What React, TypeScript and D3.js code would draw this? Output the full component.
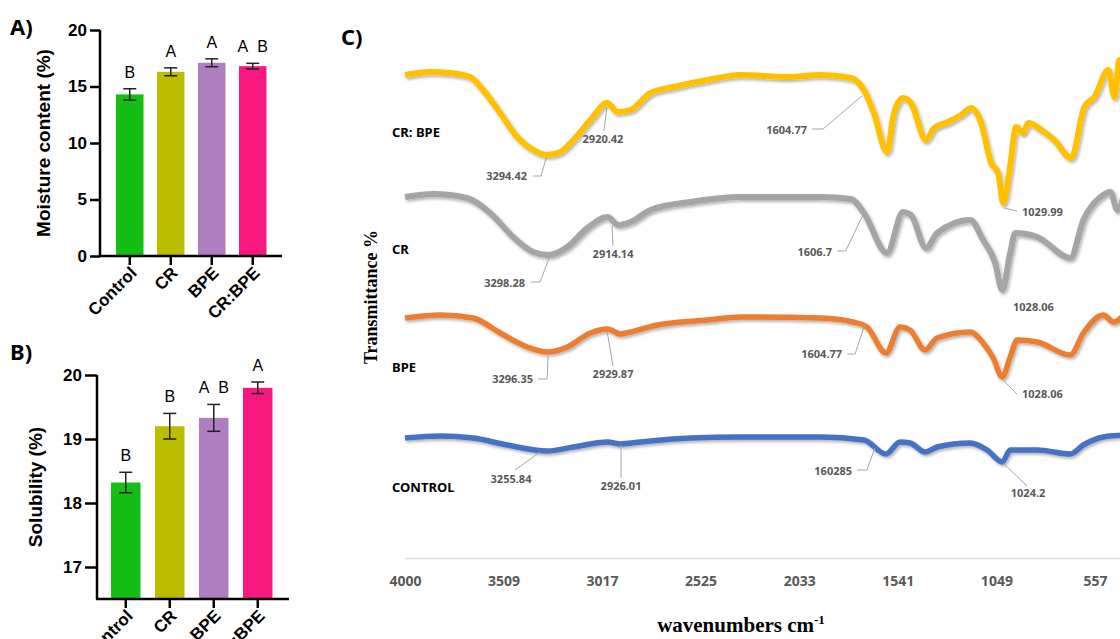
import { useRef, useEffect } from "react";
import * as d3 from "d3";

// ---- Panel A / B data ----
const categories = ["Control", "CR", "BPE", "CR:BPE"];
const moistureMeans = [14.3, 16.3, 17.1, 16.8];
const moistureErrors = [0.5, 0.35, 0.35, 0.25];
const moistureLetters = ["B", "A", "A", "A B"];
const moistureTicks = [0, 5, 10, 15, 20];

const solubilityMeans = [18.32, 19.2, 19.33, 19.8];
const solubilityErrors = [0.16, 0.2, 0.21, 0.09];
const solubilityLetters = ["B", "B", "A B", "A"];
const solubilityTicks = [17, 18, 19, 20];

const barColors = ["#14BE14", "#BDBD00", "#AE7EC0", "#F7197F"];

// ---- Panel C data (wavenumber, transmittance with offset) ----
const wavenumberTicks = [4000, 3509, 3017, 2525, 2033, 1541, 1049, 557];
const spectrumNames = ["CR: BPE", "CR", "BPE", "CONTROL"];

const crBpeSpectrum: [number, number][] = [
  [4000, 97], [3875, 97.6], [3775, 97.4], [3675, 96.6], [3610, 94], [3525, 89.4],
  [3440, 84.6], [3360, 82], [3290, 81], [3225, 81.6], [3160, 84], [3075, 88],
  [2990, 91.4], [2940, 89.6], [2875, 90], [2775, 93.4], [2660, 94.6], [2490, 96],
  [2325, 97], [2090, 96.6], [1925, 97], [1775, 96.4], [1710, 94], [1660, 89.4],
  [1595, 81.6], [1560, 89.4], [1515, 92.4], [1475, 91.4], [1400, 84], [1360, 86.4],
  [1290, 87.6], [1225, 89], [1175, 90.4], [1125, 87.4], [1075, 79.4], [1040, 77.4],
  [1015, 71.4], [985, 77.4], [950, 86.6], [915, 85.4], [890, 87.4], [825, 86],
  [760, 84], [675, 80.4], [610, 90.6], [560, 92.6], [490, 98], [460, 92.6],
  [435, 100], [400, 99],
];
const crSpectrum: [number, number][] = [
  [4000, 72.6], [3860, 73.2], [3690, 72.4], [3575, 69.4], [3460, 64.6], [3360, 61.6],
  [3285, 61], [3190, 62.6], [3090, 66.4], [2990, 68.6], [2935, 67], [2875, 67.6],
  [2775, 70], [2575, 71.6], [2325, 72.6], [1925, 72.6], [1775, 72.2], [1710, 69.4],
  [1595, 61.4], [1515, 69.6], [1475, 69], [1400, 62.4], [1345, 65.4], [1180, 68],
  [1115, 64], [1055, 59.4], [1020, 54], [980, 61.4], [955, 65.4], [845, 64.6],
  [680, 60.4], [615, 68], [530, 72.6], [480, 73.6], [445, 70], [400, 75.4],
];
const bpeSpectrum: [number, number][] = [
  [4000, 48.4], [3825, 49], [3660, 48.4], [3525, 45.4], [3390, 42.6], [3290, 41.6],
  [3190, 42.6], [3075, 45.4], [2990, 46.2], [2925, 45.2], [2875, 45.6], [2740, 47],
  [2490, 48], [2325, 48.6], [1925, 48.4], [1765, 47.6], [1695, 46.6], [1600, 41.4],
  [1530, 46.6], [1480, 46], [1405, 42], [1345, 44.4], [1180, 45.6], [1115, 43.4],
  [1065, 40.4], [1020, 36.6], [980, 40.6], [945, 44], [845, 43.6], [680, 41],
  [615, 45.4], [515, 49], [465, 47.6], [400, 49.6],
];
const controlSpectrum: [number, number][] = [
  [4000, 24.4], [3825, 24.8], [3660, 24.4], [3490, 23], [3290, 21.8], [3160, 22.6],
  [2990, 23.6], [2925, 23.2], [2825, 23.6], [2575, 24.4], [2325, 24.6], [1925, 24.6],
  [1710, 24], [1600, 21.2], [1530, 23.6], [1480, 23.4], [1405, 21.6], [1345, 22.6],
  [1180, 23.4], [1095, 22], [1020, 19.6], [980, 22], [845, 22], [680, 21.2],
  [615, 23], [515, 24.6], [400, 25],
];
const spectra = [crBpeSpectrum, crSpectrum, bpeSpectrum, controlSpectrum];
const spectrumColors = ["#FFC000", "#A5A5A5", "#ED7D31", "#4472C4"];
const spectrumWidths = [6, 6, 5.5, 5.5];
// where the sample name sits (transmittance units)
const spectrumLabelValues = [85.6, 62.2, 38.6, 14.6];

// peak callouts: text, label point, anchor, leader points (all in data space)
type Callout = { text: string; at: [number, number]; anchor: string; leader: [number, number][] };
const callouts: Callout[] = [
  { text: "3294.42", at: [3391, 76.8], anchor: "end", leader: [[3361, 76.8], [3321, 76.8], [3296, 80.4]] },
  { text: "2920.42", at: [3012, 84.2], anchor: "middle", leader: [[3007, 85.8], [2992, 90.6]] },
  { text: "1604.77", at: [1994, 86], anchor: "end", leader: [[1969, 86.2], [1914, 86.2], [1720, 92.8]] },
  { text: "1029.99", at: [921, 69.6], anchor: "start", leader: [[946, 69.8], [1011, 70.4]] },
  { text: "3298.28", at: [3401, 55.4], anchor: "end", leader: [[3371, 55.6], [3326, 55.6], [3281, 60.4]] },
  { text: "2914.14", at: [2962, 61.2], anchor: "middle", leader: [[2962, 62.8], [2967, 66.8]] },
  { text: "1606.7", at: [1869, 61.6], anchor: "end", leader: [[1844, 61.8], [1801, 61.8], [1715, 69]] },
  { text: "1028.06", at: [966, 50.6], anchor: "start", leader: [] },
  { text: "3296.35", at: [3361, 36.2], anchor: "end", leader: [[3336, 36.2], [3291, 36.2], [3286, 40.8]] },
  { text: "2929.87", at: [2962, 37.2], anchor: "middle", leader: [[2962, 38.8], [2992, 45.8]] },
  { text: "1604.77", at: [1819, 41.2], anchor: "end", leader: [[1794, 41.2], [1754, 41.2], [1705, 47.2]] },
  { text: "1028.06", at: [921, 33.2], anchor: "start", leader: [[946, 33.2], [1021, 36.2]] },
  { text: "3255.84", at: [3471, 16.2], anchor: "middle", leader: [[3451, 18], [3326, 21.6]] },
  { text: "2926.01", at: [2922, 14.8], anchor: "middle", leader: [[2922, 16.4], [2922, 23]] },
  { text: "160285", at: [1769, 17.8], anchor: "end", leader: [[1744, 18], [1695, 18], [1655, 22.4]] },
  { text: "1024.2", at: [891, 13.4], anchor: "middle", leader: [[896, 14.8], [1016, 19.4]] },
];

const SANS = "'Liberation Sans', Arial, sans-serif";
const CAL = "'Noto Sans', 'Open Sans', sans-serif";
const SERIF = "'Liberation Serif', 'Times New Roman', serif";

function drawBarPanel(svg: any, cfg: any) {
  const { means, errors, letters, ticks, domain, xRange, yRange, axisX, tickLen, title, titleX } = cfg;
  const x = d3.scaleBand().domain(categories).range(xRange).padding(0.33);
  const y = d3.scaleLinear().domain(domain).range(yRange);
  const g = svg.append("g");
  const base = y(domain[0]);

  g.selectAll("rect")
    .data(categories)
    .join("rect")
    .attr("x", (d: string) => x(d))
    .attr("width", x.bandwidth())
    .attr("y", (d: string, i: number) => y(means[i]))
    .attr("height", (d: string, i: number) => base - y(means[i]))
    .attr("fill", (d: string, i: number) => barColors[i]);

  // error bars
  const eb = g.selectAll("g.err").data(categories).join("g").attr("class", "err");
  const cx = (d: string) => (x(d) as number) + x.bandwidth() / 2;
  eb.append("line")
    .attr("x1", cx).attr("x2", cx)
    .attr("y1", (d: string, i: number) => y(means[i] + errors[i]))
    .attr("y2", (d: string, i: number) => y(means[i] - errors[i]));
  [1, -1].forEach((s) => {
    eb.append("line")
      .attr("x1", (d: string) => cx(d) - 6.5)
      .attr("x2", (d: string) => cx(d) + 6.5)
      .attr("y1", (d: string, i: number) => y(means[i] + s * errors[i]))
      .attr("y2", (d: string, i: number) => y(means[i] + s * errors[i]));
  });
  eb.selectAll("line").attr("stroke", "#222").attr("stroke-width", 1.5);

  // significance letters
  g.selectAll("text.letter")
    .data(categories)
    .join("text")
    .attr("class", "letter")
    .attr("x", cx)
    .attr("y", (d: string, i: number) => y(means[i] + errors[i]) - 11)
    .attr("text-anchor", "middle")
    .style("font", `16px ${SANS}`)
    .text((d: string, i: number) => letters[i].replace(" ", "\u00a0\u00a0"));

  // y axis
  const yAxis = d3.axisLeft(y).tickValues(ticks).tickSize(tickLen).tickSizeOuter(0).tickPadding(3).tickFormat(d3.format("d"));
  const ya = g.append("g").attr("transform", `translate(${axisX},0)`).call(yAxis);
  ya.select(".domain").attr("stroke-width", 2.5).attr("d", `M0,${yRange[1]}V${base}`);
  ya.selectAll(".tick line").attr("stroke-width", 2.5);
  ya.selectAll(".tick text").style("font", `bold 17px ${SANS}`).attr("fill", "#000");

  // x axis
  const xAxis = d3.axisBottom(x).tickSize(9).tickSizeOuter(0).tickFormat(() => "");
  const xa = g.append("g").attr("transform", `translate(0,${base})`).call(xAxis);
  xa.select(".domain").attr("stroke-width", 2.5).attr("d", `M${axisX - 1},0H${xRange[1] + 2}`);
  xa.selectAll(".tick line").attr("stroke-width", 2.5);

  g.selectAll("text.xl")
    .data(categories)
    .join("text")
    .attr("class", "xl")
    .attr("transform", (d: string) => `translate(${cx(d) + 8},${base + 18}) rotate(-45)`)
    .attr("text-anchor", "end")
    .style("font", `bold 17px ${SANS}`)
    .text((d: string) => d);

  g.append("text")
    .attr("transform", `translate(${titleX},${(yRange[0] + yRange[1]) / 2}) rotate(-90)`)
    .attr("text-anchor", "middle")
    .style("font", `bold 19px ${SANS}`)
    .text(title);
}

export default function App() {
  const ref = useRef<SVGSVGElement>(null);

  useEffect(() => {
    const svg = d3.select(ref.current);
    svg.selectAll("*").remove();

    const defs = svg.append("defs");
    defs.append("filter")
      .attr("id", "shadow")
      .attr("x", "-5%").attr("y", "-20%").attr("width", "110%").attr("height", "140%")
      .append("feDropShadow")
      .attr("dx", 1.5).attr("dy", 2).attr("stdDeviation", 1.5)
      .attr("flood-color", "#000").attr("flood-opacity", 0.3);

    // --- panel labels ---
    const panelLabel = (t: string, x: number, y: number) =>
      svg.append("text").attr("x", x).attr("y", y).style("font", `bold 22px ${CAL}`).text(t);
    panelLabel("A)", 10, 35);
    panelLabel("B)", 10, 360);
    panelLabel("C)", 341, 45);

    drawBarPanel(svg, {
      means: moistureMeans, errors: moistureErrors, letters: moistureLetters,
      ticks: moistureTicks, domain: [0, 20], xRange: [102.5, 280], yRange: [256, 30],
      axisX: 100, tickLen: 10, title: "Moisture content (%)", titleX: 50,
    });
    drawBarPanel(svg, {
      means: solubilityMeans, errors: solubilityErrors, letters: solubilityLetters,
      ticks: solubilityTicks, domain: [16.5, 20], xRange: [96.5, 287], yRange: [599, 375],
      axisX: 97, tickLen: 12, title: "Solubility (%)", titleX: 42,
    });

    // --- panel C: FTIR ---
    const x = d3.scaleLinear().domain([4000, 400]).range([405, 405 + 3600 / 4.99]);
    const y = d3.scaleLinear().domain([0, 100]).range([560, 60]);
    const c = svg.append("g");

    const xAxis = d3.axisBottom(x).tickValues(wavenumberTicks).tickSize(0).tickSizeOuter(0).tickPadding(18).tickFormat(d3.format("d"));
    const xa = c.append("g").attr("transform", "translate(0,558)").call(xAxis);
    xa.select(".domain").attr("stroke", "#D9D9D9").attr("stroke-width", 1.5);
    xa.selectAll(".tick text").style("font", `bold 14px ${CAL}`).attr("fill", "#595959");

    const line = d3.line<[number, number]>()
      .x((d) => x(d[0]))
      .y((d) => y(d[1]))
      .curve(d3.curveMonotoneX);

    c.append("g")
      .selectAll("path")
      .data(spectra)
      .join("path")
      .attr("d", (d) => line(d))
      .attr("fill", "none")
      .attr("stroke", (d, i) => spectrumColors[i])
      .attr("stroke-width", (d, i) => spectrumWidths[i])
      .attr("stroke-linejoin", "round")
      .attr("filter", "url(#shadow)");

    c.selectAll("text.sname")
      .data(spectrumNames)
      .join("text")
      .attr("class", "sname")
      .attr("x", x(4000) - 13)
      .attr("y", (d, i) => y(spectrumLabelValues[i]))
      .attr("dy", "0.35em")
      .style("font", `bold 13px ${CAL}`)
      .text((d) => d);

    const cg = c.append("g");
    callouts.forEach((co) => {
      if (co.leader.length > 1) {
        cg.append("path")
          .attr("d", d3.line<[number, number]>().x((d) => x(d[0])).y((d) => y(d[1]))(co.leader))
          .attr("fill", "none")
          .attr("stroke", "#A6A6A6")
          .attr("stroke-width", 1);
      }
      cg.append("text")
        .attr("x", x(co.at[0]))
        .attr("y", y(co.at[1]))
        .attr("dy", "0.35em")
        .attr("text-anchor", co.anchor)
        .style("font", `bold 11px ${CAL}`)
        .attr("fill", "#595959")
        .text(co.text);
    });

    c.append("text")
      .attr("transform", "translate(377,297) rotate(-90)")
      .attr("text-anchor", "middle")
      .style("font", `bold 18px ${SERIF}`)
      .text("Transmittance %");

    const xt = c.append("text")
      .attr("x", 741)
      .attr("y", 632)
      .attr("text-anchor", "middle")
      .style("font", `bold 21px ${SERIF}`);
    xt.append("tspan").text("wavenumbers cm");
    xt.append("tspan").attr("dy", -8).style("font-size", "13px").text("-1");
  }, []);

  return (
    <svg
      ref={ref}
      width={1120}
      height={639}
      style={{ position: "absolute", left: 0, top: 0, background: "#fff" }}
    />
  );
}
